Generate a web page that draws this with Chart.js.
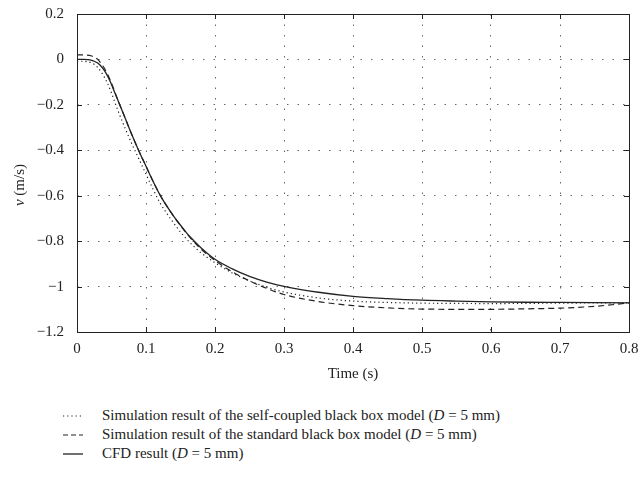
<!DOCTYPE html>
<html>
<head>
<meta charset="utf-8">
<script src="https://cdn.jsdelivr.net/npm/chart.js@4.4.1/dist/chart.umd.min.js"></script>
<style>
  html, body { margin: 0; padding: 0; background: #fff; }
  #wrap { position: relative; width: 640px; height: 478px; }
  #c { position: absolute; left: 0; top: 0; }
  .leg { position: absolute; left: 63px; font-family: "Liberation Serif", "Times New Roman", serif; font-size: 15px; color: #222; white-space: nowrap; }
  .leg .s { position: absolute; left: 0; top: 10px; width: 20px; height: 0; }
  .leg .t { position: absolute; left: 39px; top: 0; line-height: 19px; }
</style>
</head>
<body>
<div id="wrap">
  <canvas id="c" width="640" height="390"></canvas>
  <div class="leg" style="top:406px"><span class="s" id="s1"></span><span class="t">Simulation result of the self-coupled black box model (<i>D</i> = 5 mm)</span></div>
  <div class="leg" style="top:425px"><span class="s" id="s2"></span><span class="t">Simulation result of the standard black box model (<i>D</i> = 5 mm)</span></div>
  <div class="leg" style="top:444px"><span class="s" id="s3"></span><span class="t">CFD result (<i>D</i> = 5 mm)</span></div>
</div>
<script>
// ---- data ----
const timeS = [0, 0.01, 0.015, 0.02, 0.025, 0.03, 0.035, 0.04, 0.045, 0.05, 0.055, 0.06, 0.07, 0.08, 0.09, 0.10, 0.11, 0.12, 0.13, 0.14, 0.15, 0.16, 0.17, 0.18, 0.20, 0.225, 0.25, 0.275, 0.30, 0.35, 0.40, 0.45, 0.50, 0.55, 0.60, 0.65, 0.70, 0.75, 0.80];
const selfCoupled = [-0.008, -0.008, -0.01, -0.014, -0.022, -0.035, -0.055, -0.08, -0.11, -0.148, -0.19, -0.23, -0.305, -0.375, -0.44, -0.505, -0.57, -0.63, -0.677, -0.72, -0.76, -0.795, -0.825, -0.852, -0.895, -0.94, -0.975, -1.003, -1.024, -1.05, -1.064, -1.07, -1.073, -1.074, -1.075, -1.074, -1.073, -1.072, -1.071];
const standardModel = [0.02, 0.02, 0.019, 0.016, 0.01, 0.0, -0.018, -0.04, -0.07, -0.105, -0.145, -0.185, -0.26, -0.335, -0.405, -0.47, -0.535, -0.595, -0.645, -0.69, -0.732, -0.77, -0.805, -0.836, -0.885, -0.935, -0.975, -1.008, -1.035, -1.066, -1.084, -1.094, -1.099, -1.1, -1.1, -1.098, -1.095, -1.087, -1.072];
const cfdResult = [0, 0, -0.001, -0.003, -0.008, -0.016, -0.03, -0.05, -0.077, -0.11, -0.148, -0.185, -0.26, -0.335, -0.405, -0.47, -0.535, -0.595, -0.645, -0.69, -0.73, -0.768, -0.80, -0.83, -0.88, -0.922, -0.955, -0.98, -0.999, -1.025, -1.043, -1.053, -1.06, -1.064, -1.067, -1.069, -1.07, -1.071, -1.072];
const xTicks = [0, 0.1, 0.2, 0.3, 0.4, 0.5, 0.6, 0.7, 0.8];
const yTicks = [0.2, 0, -0.2, -0.4, -0.6, -0.8, -1, -1.2];
const seriesNames = ["Simulation result of the self-coupled black box model (D = 5 mm)", "Simulation result of the standard black box model (D = 5 mm)", "CFD result (D = 5 mm)"];

const INK = '#222';
const FONT = '"Liberation Serif", "Times New Roman", serif';

function pts(ys) { return timeS.map((t, i) => ({ x: t, y: ys[i] })); }
function fmt(v) {
  const r = Math.round(v * 10) / 10;
  if (r === 0) return '0';
  return (r < 0 ? '\u2212' : '') + String(Math.abs(r));
}

const framePlugin = {
  id: 'frame',
  afterDraw(chart) {
    const ctx = chart.ctx, a = chart.chartArea;
    const xs = chart.scales.x, ys = chart.scales.y;
    ctx.save();
    ctx.strokeStyle = INK;
    ctx.lineWidth = 1;
    ctx.setLineDash([]);
    ctx.strokeRect(Math.round(a.left) + 0.5, Math.round(a.top) + 0.5, Math.round(a.right - a.left), Math.round(a.bottom - a.top));
    const L = 5;
    ctx.beginPath();
    xTicks.forEach(t => {
      const px = Math.round(xs.getPixelForValue(t)) + 0.5;
      ctx.moveTo(px, a.bottom); ctx.lineTo(px, a.bottom - L);
      ctx.moveTo(px, a.top); ctx.lineTo(px, a.top + L);
    });
    yTicks.forEach(v => {
      const py = Math.round(ys.getPixelForValue(v)) + 0.5;
      ctx.moveTo(a.left, py); ctx.lineTo(a.left + L, py);
      ctx.moveTo(a.right, py); ctx.lineTo(a.right - L, py);
    });
    ctx.stroke();
    // axis titles
    ctx.fillStyle = INK;
    ctx.font = '15px ' + FONT;
    ctx.textAlign = 'center';
    ctx.textBaseline = 'middle';
    ctx.fillText('Time (s)', (a.left + a.right) / 2, 374);
    ctx.translate(20, 185);
    ctx.rotate(-Math.PI / 2);
    const vPart = 'v', rest = ' (m/s)';
    ctx.font = 'italic 15px ' + FONT;
    const w1 = ctx.measureText(vPart).width;
    ctx.font = '15px ' + FONT;
    const w2 = ctx.measureText(rest).width;
    const start = -(w1 + w2) / 2;
    ctx.textAlign = 'left';
    ctx.font = 'italic 15px ' + FONT;
    ctx.fillText(vPart, start, 0);
    ctx.font = '15px ' + FONT;
    ctx.fillText(rest, start + w1, 0);
    ctx.restore();
  }
};

new Chart(document.getElementById('c'), {
  type: 'line',
  data: {
    datasets: [
      { label: seriesNames[0], data: pts(selfCoupled), borderColor: INK, borderWidth: 1.2, borderDash: [1.2, 3], pointRadius: 0, cubicInterpolationMode: 'monotone', fill: false },
      { label: seriesNames[1], data: pts(standardModel), borderColor: INK, borderWidth: 1.2, borderDash: [6, 4], pointRadius: 0, cubicInterpolationMode: 'monotone', fill: false },
      { label: seriesNames[2], data: pts(cfdResult), borderColor: INK, borderWidth: 1.3, pointRadius: 0, cubicInterpolationMode: 'monotone', fill: false }
    ]
  },
  options: {
    responsive: false,
    animation: false,
    events: [],
    layout: { padding: { top: 14, right: 11, left: 0, bottom: 0 } },
    plugins: { legend: { display: false }, tooltip: { enabled: false } },
    scales: {
      x: {
        type: 'linear', min: 0, max: 0.8,
        afterBuildTicks: s => { s.ticks = xTicks.map(v => ({ value: v })); },
        afterFit: s => { s.height = 58; },
        grid: { color: '#666', lineWidth: 1, drawTicks: true, tickLength: 8, tickColor: 'rgba(0,0,0,0)' },
        border: { display: false, dash: [1.5, 9] },
        ticks: { color: INK, font: { family: FONT, size: 15 }, padding: 0, maxRotation: 0, callback: v => fmt(v) }
      },
      y: {
        type: 'linear', min: -1.2, max: 0.2,
        afterBuildTicks: s => { s.ticks = yTicks.map(v => ({ value: v })); },
        afterFit: s => { s.width = 77; },
        grid: { color: '#666', lineWidth: 1, drawTicks: true, tickLength: 13, tickColor: 'rgba(0,0,0,0)' },
        border: { display: false, dash: [1.5, 9] },
        ticks: { color: INK, font: { family: FONT, size: 15 }, padding: 0, callback: v => fmt(v) }
      }
    }
  },
  plugins: [framePlugin]
});

// legend line samples
function sample(id, dash, w) {
  const el = document.getElementById(id);
  const cv = document.createElement('canvas');
  cv.width = 22; cv.height = 4;
  cv.style.position = 'absolute'; cv.style.left = '0'; cv.style.top = '-2px';
  const c = cv.getContext('2d');
  c.strokeStyle = INK; c.lineWidth = w; c.setLineDash(dash);
  c.beginPath(); c.moveTo(0, 2); c.lineTo(20, 2); c.stroke();
  el.appendChild(cv);
}
sample('s1', [1.2, 3], 1.2);
sample('s2', [5, 3], 1.2);
sample('s3', [], 1.3);
</script>
</body>
</html>
